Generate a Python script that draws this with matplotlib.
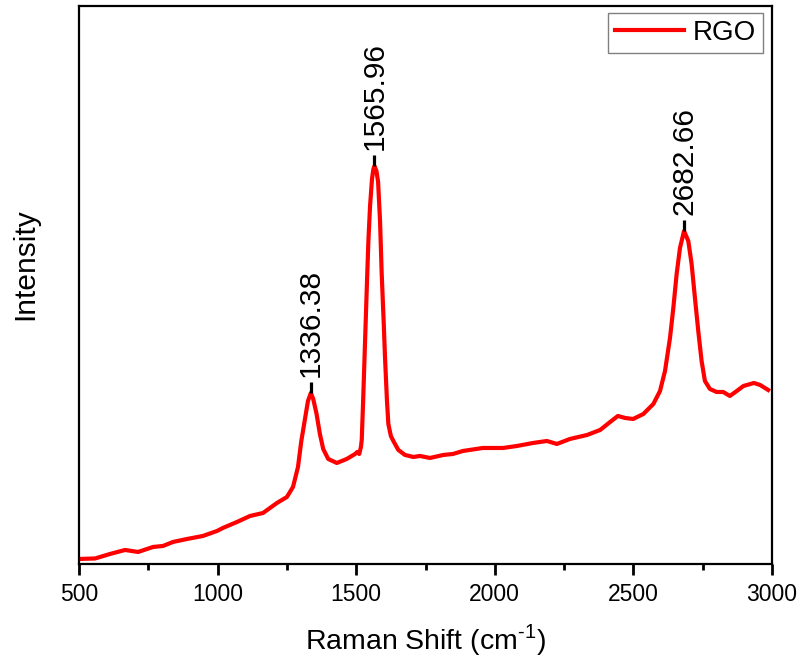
import matplotlib
matplotlib.use("Agg")
import matplotlib.pyplot as plt
from matplotlib.ticker import MultipleLocator

plt.rcParams['font.family'] = ['Liberation Sans', 'DejaVu Sans']
plt.rcParams['mathtext.fontset'] = 'custom'
plt.rcParams['mathtext.rm'] = 'Liberation Sans'

# --- spectrum (arbitrary intensity units) ---
raman_shift = [500, 558, 612, 666, 713, 767, 803, 839, 890, 947, 998, 1019,
               1070, 1117, 1164, 1214, 1250, 1272, 1290, 1302, 1314, 1326,
               1336.38, 1345, 1357, 1369, 1381, 1399, 1430, 1466, 1496, 1504,
               1511, 1517, 1520, 1525, 1532, 1539, 1544, 1550, 1557, 1562,
               1565.96, 1573, 1579, 1586, 1592, 1599, 1604, 1611, 1616, 1625,
               1634, 1652, 1676, 1706, 1730, 1766, 1814, 1849, 1885, 1957,
               2030, 2080, 2138, 2188, 2224, 2271, 2333, 2380, 2416, 2444,
               2470, 2499, 2536, 2572, 2596, 2614, 2632, 2644, 2656, 2668,
               2682.66, 2698, 2710, 2722, 2734, 2746, 2758, 2776, 2800, 2824,
               2848, 2873, 2897, 2935, 2957, 2986]
intensity = [5, 5.5, 10, 14, 12, 17, 18, 22, 25, 28, 33, 36,
             42, 48, 51, 61, 67, 77, 97, 123, 143, 163,
             171, 165, 150, 130, 115, 105, 101, 105, 110, 112,
             110, 117, 124, 163, 223, 283, 323, 358, 385, 395,
             398, 393, 382, 343, 290, 243, 206, 163, 140, 128,
             123, 114, 109, 107, 108, 106, 109, 110, 113, 116,
             116, 118, 121, 123, 120, 125, 129, 134, 142, 148,
             146, 145, 150, 160, 173, 193, 226, 256, 290, 316,
             333, 323, 300, 266, 233, 203, 183, 175, 172, 172,
             168, 173, 178, 181, 179, 174]

peak_pos = [1336.38, 1565.96, 2682.66]
peak_val = [171, 398, 333]
peak_text = ["1336.38", "1565.96", "2682.66"]

fig = plt.figure(figsize=(8.02, 6.57), dpi=100)
ax = fig.add_axes([0.0985, 0.1416, 0.8641, 0.8493])

ax.plot(raman_shift, intensity, color="#ff0000", linewidth=3.0,
        solid_joinstyle="round", label="RGO")

# peak markers + labels
for px, pv, txt in zip(peak_pos, peak_val, peak_text):
    ax.plot([px, px], [pv, pv + 11], color="black", linewidth=2.3,
            solid_capstyle="butt")
    ax.text(px, pv + 16, txt, rotation=90, ha="center", va="bottom",
            fontsize=21.5)

ax.set_xlim(500, 3000)
ax.set_ylim(0, 558)
ax.xaxis.set_major_locator(MultipleLocator(500))
ax.xaxis.set_minor_locator(MultipleLocator(250))
ax.set_yticks([])
ax.tick_params(axis="x", which="major", direction="out", length=8,
               width=2, labelsize=16.5, pad=6)
ax.tick_params(axis="x", which="minor", direction="out", length=4, width=2)
for sp in ax.spines.values():
    sp.set_linewidth(1.6)

ax.set_xlabel(r"Raman Shift (cm$^{\text{-}\mathrm{1}}$)", fontsize=20.5)
ax.set_ylabel("Intensity", fontsize=21.5)
ax.xaxis.set_label_coords(0.5, -0.104)
ax.yaxis.set_label_coords(-0.058, 0.537)

leg = ax.legend(loc="upper right", bbox_to_anchor=(0.987, 0.988),
                borderaxespad=0, fontsize=20, handlelength=2.5,
                handletextpad=0.3, borderpad=0.25, fancybox=False,
                framealpha=1, edgecolor="#808080")
leg.get_frame().set_linewidth(1.0)

fig.savefig("out.png", dpi=100)
